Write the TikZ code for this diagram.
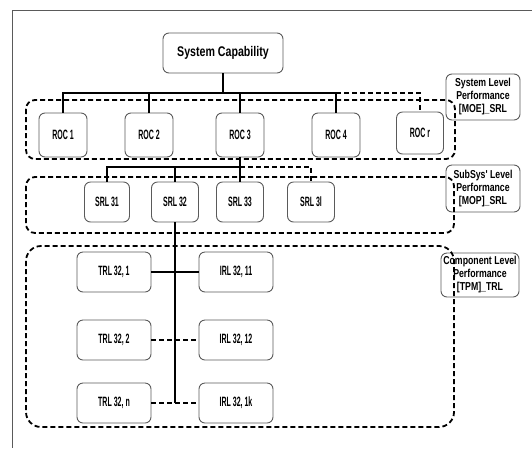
\documentclass[tikz,border=0pt]{standalone}
\usepackage{fontspec}
\setmainfont{Liberation Sans}[FakeStretch=0.52]
\newfontfamily\lblfont{Liberation Sans}[FakeStretch=0.76]
\usepackage{tikz}
\usetikzlibrary{calc, arrows.meta}
\tikzset{>=latex}
\definecolor{boxgray}{RGB}{90, 90, 90}
\tikzset{
  rbox/.style = {draw = boxgray, line width = 0.9pt, rounded corners = 6pt, align = center, font = \fontsize{13.5}{15}\selectfont\bfseries},
  lvllabel/.style = {draw = boxgray, line width = 0.9pt, rounded corners = 6pt, align = center, inner sep = 0pt, font = \lblfont\fontsize{11.5}{13}\selectfont\bfseries},
  bus/.style = {line width = 2pt},
  opt/.style = {line width = 1.8pt, dash pattern = on 5pt off 3pt},
  lvlbox/.style = {line width = 1.8pt, dash pattern = on 5pt off 3pt, rounded corners = 9pt}
}

\begin{document}
\begin{tikzpicture}[x = 1pt, y = -1pt]
\useasboundingbox (0,0) rectangle (532,448);
\draw[line width = 1pt, boxgray] (532,10) -- (12,10) -- (12,448);
% nodes
\node[rbox, minimum width = 120pt, minimum height = 40pt, font = \lblfont\fontsize{14}{16}\selectfont\bfseries] (cap) at (223,53) {System Capability};
\node[rbox, minimum width = 48pt, minimum height = 44pt] (roc1) at (63,135) {ROC 1};
\node[rbox, minimum width = 48pt, minimum height = 44pt] (roc2) at (149,135) {ROC 2};
\node[rbox, minimum width = 48pt, minimum height = 44pt] (roc3) at (240,135) {ROC 3};
\node[rbox, minimum width = 48pt, minimum height = 44pt] (roc4) at (336,135) {ROC 4};
\node[rbox, minimum width = 47pt, minimum height = 42pt] (rocr) at (420,133) {ROC r};
\node[rbox, minimum width = 45pt, minimum height = 40pt] (srl31) at (107,202) {SRL 31};
\node[rbox, minimum width = 47pt, minimum height = 40pt] (srl32) at (175,202) {SRL 32};
\node[rbox, minimum width = 47pt, minimum height = 40pt] (srl33) at (240,202) {SRL 33};
\node[rbox, minimum width = 47pt, minimum height = 40pt] (srl3l) at (311,202) {SRL 3l};
\node[rbox, minimum width = 74pt, minimum height = 40pt] (trl1) at (114,272) {TRL 32, 1};
\node[rbox, minimum width = 74pt, minimum height = 40pt] (trl2) at (114,340) {TRL 32, 2};
\node[rbox, minimum width = 74pt, minimum height = 40pt] (trln) at (114,403) {TRL 32, n};
\node[rbox, minimum width = 74pt, minimum height = 40pt] (irl11) at (236,272) {IRL 32, 11};
\node[rbox, minimum width = 74pt, minimum height = 40pt] (irl12) at (236,340) {IRL 32, 12};
\node[rbox, minimum width = 74pt, minimum height = 40pt] (irl1k) at (236,403) {IRL 32, 1k};
\node[lvllabel, minimum width = 74pt, minimum height = 46pt] (lbl1) at (483,97) {System Level\\Performance\\{[}MOE{]}\_SRL};
\node[lvllabel, minimum width = 74pt, minimum height = 47pt] (lbl2) at (483,188.5) {SubSys' Level\\Performance\\{[}MOP{]}\_SRL};
\node[lvllabel, minimum width = 78pt, minimum height = 44pt] (lbl3) at (480,275) {Component Level\\Performance\\{[}TPM{]}\_TRL};
% level groups
\draw[lvlbox] (26,100) rectangle (455,159);
\draw[lvlbox] (26,177) rectangle (454,233);
\draw[lvlbox, rounded corners = 15pt] (26,246) rectangle (454,427);
% tree
\coordinate (b1) at (223,93);
\coordinate (b2) at (240,167);
\draw[bus] (cap.south) -- (b1);
\draw[bus] (roc1.north) |- (b1) -| (roc4.north);
\draw[bus] (roc2.north) -- (roc2.north |- b1);
\draw[bus] (roc3.north) -- (roc3.north |- b1);
\draw[opt] (roc4.north |- b1) -| (rocr.north);
\draw[bus] (roc3.south) -- (b2);
\draw[bus] (srl31.north) |- (b2) -- (srl33.north);
\draw[bus] (srl32.north) -- (srl32.north |- b2);
\draw[opt] (b2) -| (srl3l.north);
\draw[bus] (srl32.south) -- (srl32.south |- trln.east);
\draw[bus] (trl1.east) -- (irl11.west);
\draw[opt] (trl2.east) -- (irl12.west);
\draw[opt] (trln.east) -- (irl1k.west);
\end{tikzpicture}
\end{document}
